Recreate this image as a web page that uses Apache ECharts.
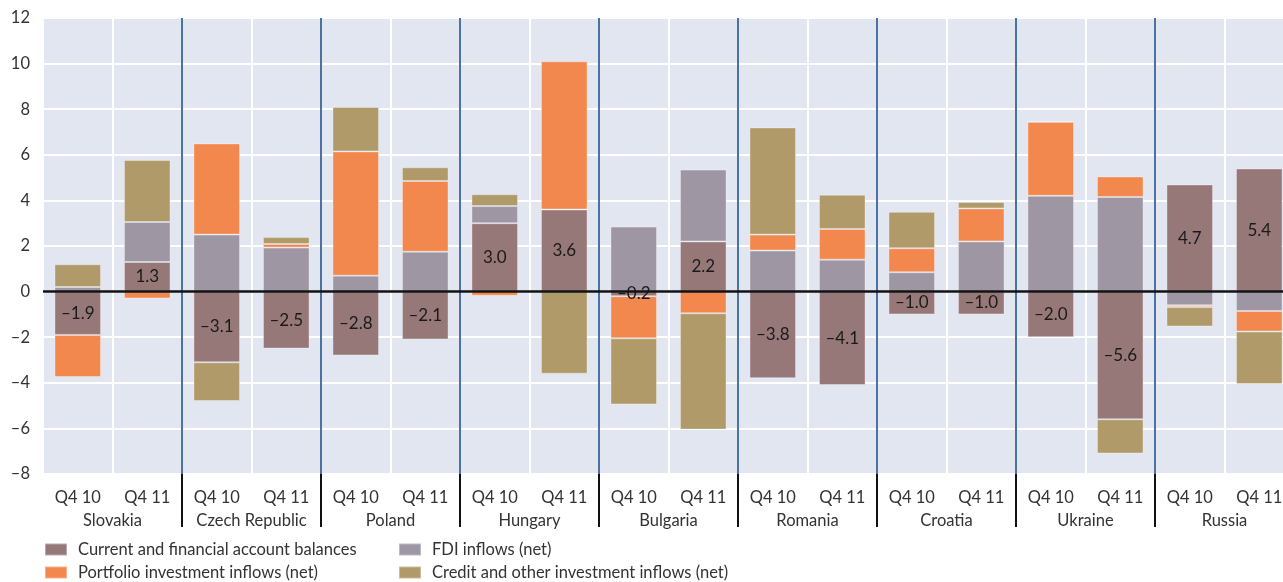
<!DOCTYPE html>
<html>
<head>
<meta charset="utf-8">
<script src="https://cdn.jsdelivr.net/npm/echarts@6/dist/echarts.min.js"></script>
<style>
html, body { margin: 0; padding: 0; background: #fff; }
#main { width: 1283px; height: 582px; }
</style>
</head>
<body>
<div id="main"></div>
<script>
// chart data, two quarters per country
var countries = ['Slovakia', 'Czech Republic', 'Poland', 'Hungary', 'Bulgaria', 'Romania', 'Croatia', 'Ukraine', 'Russia'];
var periods = ['Q4 10', 'Q4 11'];
var balance   = [-1.9, 1.3, -3.1, -2.5, -2.8, -2.1, 3.0, 3.6, -0.2, 2.2, -3.8, -4.1, -1.0, -1.0, -2.0, -5.6, 4.7, 5.4];
var fdi       = [0.2, 1.75, 2.5, 1.93, 0.7, 1.75, 0.75, 0, 2.85, 3.15, 1.8, 1.4, 0.85, 2.2, 4.2, 4.15, -0.6, -0.85];
var portfolio = [-1.85, -0.3, 4.0, 0.16, 5.45, 3.1, -0.18, 6.5, -1.85, -0.95, 0.7, 1.35, 1.05, 1.45, 3.25, 0.9, -0.08, -0.9];
var credit    = [1.0, 2.72, -1.7, 0.3, 1.95, 0.6, 0.52, -3.6, -2.9, -5.1, 4.7, 1.5, 1.6, 0.28, 0, -1.5, -0.85, -2.3];
var yTicks = { min: -8, max: 12, step: 2 };

var names = ['Current and financial account balances', 'FDI inflows (net)',
             'Portfolio investment inflows (net)', 'Credit and other investment inflows (net)'];
var colors = ['#977878', '#9e96a3', '#f2884e', '#b09a6a'];

var categories = [];
countries.forEach(function (c) {
    periods.forEach(function (p) { categories.push(p); });
});

function dash(v) {
    return String(v).replace('-', '\u2013');
}

var font = 'Lato, "Open Sans", sans-serif';

function bar(name, data, color, withLabel) {
    var s = {
        name: name,
        type: 'bar',
        stack: 'all',
        barWidth: '67%',
        data: data,
        itemStyle: { color: color, borderColor: 'rgba(255,255,255,0.35)', borderWidth: 1 },
        emphasis: { disabled: true }
    };
    if (withLabel) {
        s.label = {
            show: true,
            position: 'inside',
            color: '#1a1a1a',
            fontSize: 17,
            fontFamily: font,
            formatter: function (p) { return dash(p.value.toFixed(1)); }
        };
        s.markLine = {
            silent: true,
            symbol: 'none',
            label: { show: false },
            lineStyle: { color: '#111', width: 2.5, type: 'solid' },
            data: [{ yAxis: 0 }]
        };
    }
    return s;
}

function legendBlock(items, left) {
    return {
        data: items,
        orient: 'vertical',
        left: left, top: 541, height: 100,
        padding: 0,
        itemWidth: 22, itemHeight: 12, itemGap: 6,
        icon: 'rect',
        textStyle: { fontSize: 16.5, lineHeight: 17, color: '#333', fontFamily: font, padding: [0, 0, 0, 6] }
    };
}

var chart = echarts.init(document.getElementById('main'));
chart.setOption({
    animation: false,
    textStyle: { fontFamily: font },
    grid: {
        left: 43, width: 1251, top: 18, bottom: 108,
        containLabel: false,
        outerBoundsMode: 'none',
        show: true, backgroundColor: '#e2e6f1', borderWidth: 0
    },
    legend: [legendBlock([names[0], names[2]], 44), legendBlock([names[1], names[3]], 398)],
    xAxis: [{
        type: 'category',
        data: categories,
        position: 'bottom',
        axisLine: { show: false, onZero: false },
        axisTick: { show: false },
        axisLabel: { color: '#333', fontSize: 16.5, margin: 15, interval: 0 },
        splitLine: { show: true, lineStyle: { color: '#ffffff', width: 2 } }
    }, {
        type: 'category',
        data: countries,
        position: 'bottom',
        axisLine: { show: false, onZero: false },
        axisTick: {
            show: true, length: 53, inside: false,
            interval: function (i) { return i > 0; },
            lineStyle: { color: '#111', width: 2 }
        },
        axisLabel: { color: '#333', fontSize: 16.5, margin: 38, interval: 0 },
        splitLine: {
            show: true,
            interval: function (i) { return i > 0; },
            lineStyle: { color: '#4b72a2', width: 2 }
        }
    }],
    yAxis: {
        type: 'value',
        min: yTicks.min, max: yTicks.max, interval: yTicks.step,
        axisLine: { show: false },
        axisTick: { show: false },
        axisLabel: { color: '#333', fontSize: 16.5, margin: 13, formatter: dash },
        splitLine: { lineStyle: { color: '#ffffff', width: 2 } }
    },
    series: [
        bar(names[0], balance, colors[0], true),
        bar(names[1], fdi, colors[1]),
        bar(names[2], portfolio, colors[2]),
        bar(names[3], credit, colors[3])
    ]
});
</script>
</body>
</html>
